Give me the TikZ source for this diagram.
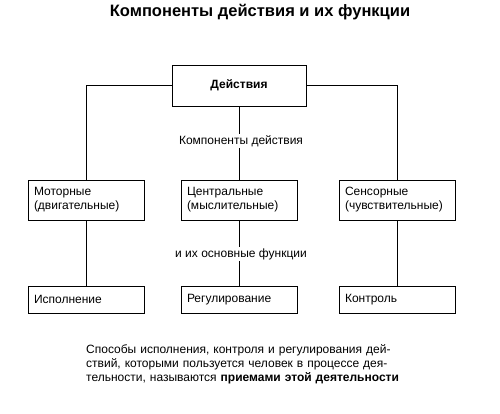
\documentclass[tikz,border=0pt]{standalone}
\usepackage{fontspec}
\setmainfont{Liberation Sans}
\begin{document}
\begin{tikzpicture}[x=1pt,y=-1pt,
  box/.style={draw,line width=1pt,inner sep=0pt},
  lbl/.style={font=\fontsize{12}{14}\selectfont,inner sep=1pt},
  conn/.style={line width=0.8pt}]
\useasboundingbox (0,0) rectangle (500,413);
\node[font=\fontsize{16.5}{19}\selectfont\bfseries] (title) at (260,12) {Компоненты действия и их функции};
% top box
\node[box,minimum width=134pt,minimum height=41pt,font=\fontsize{12}{14}\selectfont\bfseries] (act) at (239,85.5) {Действия};
% middle boxes
\tikzset{mid/.style={box,minimum width=110pt,minimum height=40pt,text width=104pt,align=left,inner xsep=6pt,font=\fontsize{12}{14}\selectfont}}
\tikzset{bot/.style={box,minimum width=110pt,minimum height=27pt,text width=104pt,align=left,inner xsep=6pt,font=\fontsize{12}{14}\selectfont}}
\node[mid] (mot) at (86,200) {Моторные\\(двигательные)};
\node[mid] (cen) at (239,200) {Центральные\\(мыслительные)};
\node[mid] (sen) at (397,200) {Сенсорные\\(чувствительные)};
\node[bot] (isp) at (86,299.5) {Исполнение};
\node[bot] (reg) at (239,299.5) {Регулирование};
\node[bot] (kon) at (397,299.5) {Контроль};
\node[lbl] (komp) at (241,141) {Компоненты действия};
\node[lbl] (func) at (241,254) {и их основные функции};
% connectors
\draw[conn] (act.west) -| (mot.north);
\draw[conn] (act.east) -| (sen.north);
\draw[conn] (act.south) -- (act.south |- komp.north);
\draw[conn] (cen.north |- komp.south) -- (cen.north);
\draw[conn] (mot.south) -- (isp.north);
\draw[conn] (sen.south) -- (kon.north);
\draw[conn] (cen.south) -- (cen.south |- func.north);
\draw[conn] (reg.north |- func.south) -- (reg.north);
% paragraph
\node[anchor=north west,inner sep=0pt,text width=320pt,align=left,font=\fontsize{12}{14}\selectfont] (txt) at (86,344) {Способы исполнения, контроля и регулирования дей-\\ствий, которыми пользуется человек в процессе дея-\\тельности, называются \textbf{приемами этой деятельности}};
\end{tikzpicture}
\end{document}
